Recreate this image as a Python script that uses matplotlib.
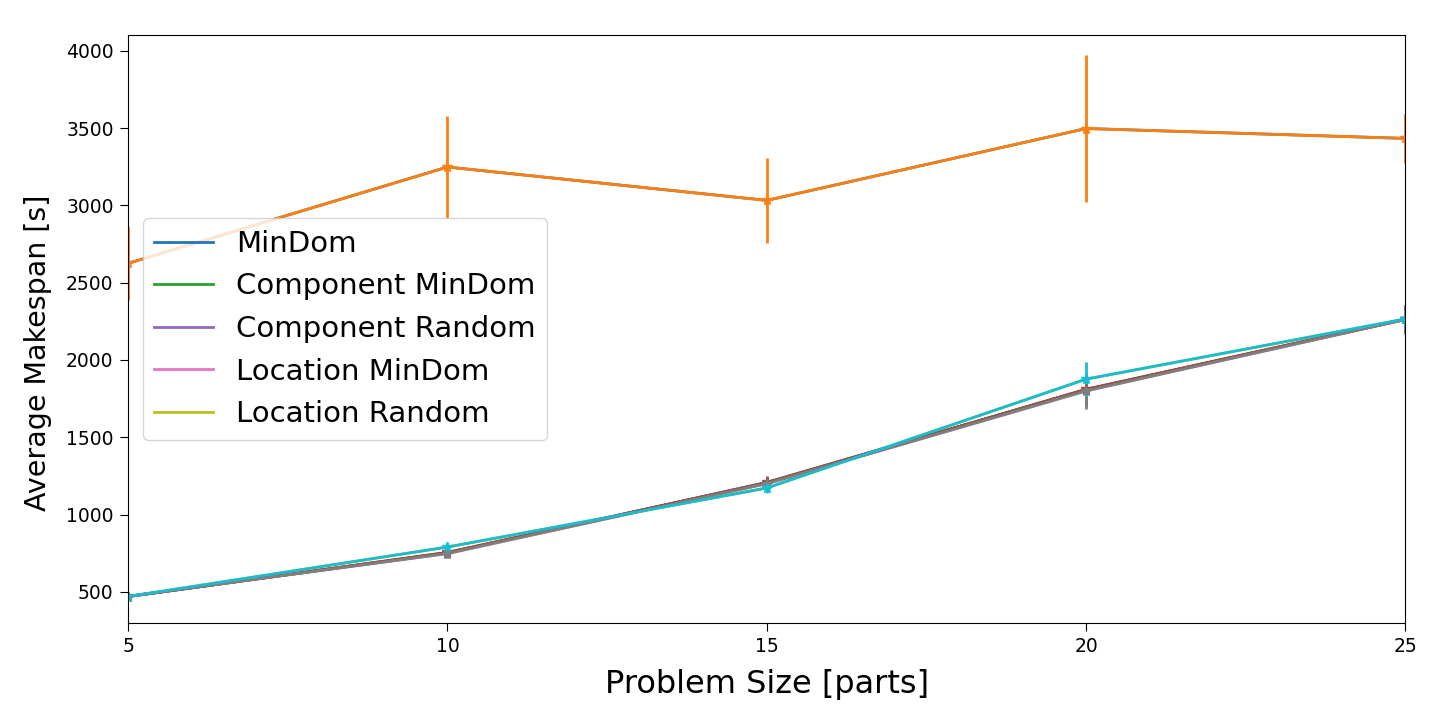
import numpy as np
import matplotlib
matplotlib.use('Agg')
import matplotlib.pyplot as plt

# Problem sizes
sizes = [5, 10, 15, 20, 25]

labels = ['MinDom', 'Component MinDom', 'Component Random',
          'Location MinDom', 'Location Random']

# Average makespan per heuristic
mindom = [2625, 3248, 3032, 3497, 3433]
comp_mindom = [470, 755, 1205, 1810, 2265]
comp_random = [470, 752, 1208, 1808, 2262]
loc_mindom = [472, 748, 1200, 1800, 2262]
loc_random = [470, 790, 1172, 1876, 2265]

# Standard deviations
mindom_err = [240, 330, 275, 475, 160]
comp_mindom_err = [15, 30, 40, 100, 90]
comp_random_err = [15, 30, 40, 100, 90]
loc_mindom_err = [15, 30, 40, 115, 95]
loc_random_err = [15, 35, 30, 110, 60]

means = [mindom, comp_mindom, comp_random, loc_mindom, loc_random]
errs = [mindom_err, comp_mindom_err, comp_random_err, loc_mindom_err, loc_random_err]

fig = plt.figure(figsize=(14.4, 7.2), dpi=100)
ax = fig.add_axes([0.089, 0.135, 0.887, 0.816])

for lab, m, e in zip(labels, means, errs):
    ax.plot(sizes, m, label=lab, lw=2)
    ax.errorbar(sizes, m, yerr=e, marker='*', ms=7, lw=2)

ax.set_xlim(5, 25)
ax.set_ylim(300, 4100)
ax.set_xticks([5, 10, 15, 20, 25])
ax.tick_params(labelsize=13.5, length=5.5, pad=5)
ax.set_xlabel('Problem Size [parts]', fontsize=23, labelpad=9)
ax.set_ylabel('Average Makespan [s]', fontsize=20.5)
ax.yaxis.set_label_coords(-0.06, 0.46)
ax.legend(loc='center left', fontsize=21)

fig.savefig('out.png', dpi=100)
